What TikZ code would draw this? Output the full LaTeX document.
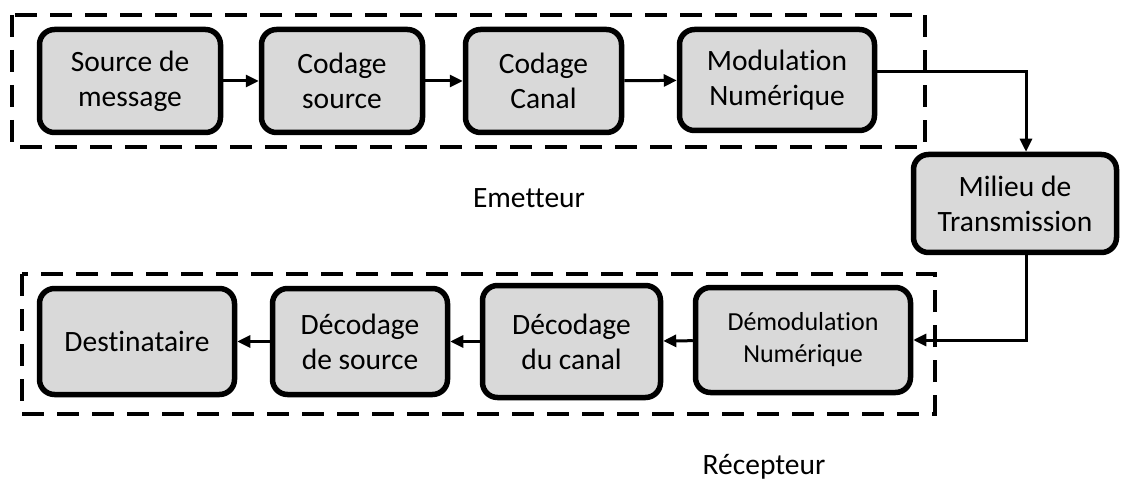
\documentclass[tikz,border=0pt]{standalone}
\usepackage{fontspec}
\setmainfont{Carlito}[Ligatures=CommonOff]
\usetikzlibrary{arrows.meta,positioning}
\definecolor{boxgray}{HTML}{D9D9D9}
\tikzset{
  blk/.style={draw=black, fill=boxgray, line width=5.5pt, rounded corners=15pt,
    align=center, inner sep=0pt, font=\fontsize{29.5}{35}\selectfont},
  grp/.style={draw=black, line width=3.5pt, dash pattern=on 22pt off 13pt},
  arr/.style={draw=black, line width=3pt, -{Triangle[length=13pt,width=12pt]}},
  lbl/.style={font=\fontsize{29.5}{35}\selectfont}
}
\begin{document}
\begin{tikzpicture}[x=1pt,y=-1pt]
\useasboundingbox (0,0) rectangle (1122,481);
% group frames
\draw[grp] (12,15) rectangle (925,147);
\draw[grp] (22,274) rectangle (935,414);
% top row
\node[blk, minimum width=181pt, minimum height=103pt] (b1) at (130,81) {Source de\\message};
\node[blk, minimum width=161pt, minimum height=103pt] (b2) at (342,81) {Codage\\source};
\node[blk, minimum width=156pt, minimum height=103pt] (b3) at (543.5,81) {Codage\\Canal};
\node[blk, minimum width=195pt, minimum height=101pt] (b4) at (777,80) {Modulation\\Numérique};
% channel
\node[blk, minimum width=203pt, minimum height=98pt] (m) at (1015,203.5) {Milieu de\\Transmission};
% bottom row
\node[blk, minimum width=195pt, minimum height=106pt] (d1) at (137,341.5) {Destinataire};
\node[blk, minimum width=175pt, minimum height=106pt] (d2) at (360,341.5) {Décodage\\de source};
\node[blk, minimum width=178pt, minimum height=112pt] (d3) at (571.5,341.5) {Décodage\\du canal};
\node[blk, minimum width=215pt, minimum height=105pt, font=\fontsize{26}{32}\selectfont] (d4) at (803,340) {Démodulation\\Numérique};
% arrows
\draw[arr] (b1) -- (b2);
\draw[arr] (b2) -- (b3);
\draw[arr] (b3) -- (b4);
\draw[arr] ([yshift=8pt]b4.east) -| ([xshift=11pt]m.north);
\draw[arr] ([xshift=11pt]m.south) |- (d4.east);
\draw[arr] (d4) -- (d3);
\draw[arr] (d3) -- (d2);
\draw[arr] (d2) -- (d1);
% labels
\node[lbl] (em) at (529,198) {Emetteur};
\node[lbl, anchor=base] (rc) at (764,474) {Récepteur};
\end{tikzpicture}
\end{document}
